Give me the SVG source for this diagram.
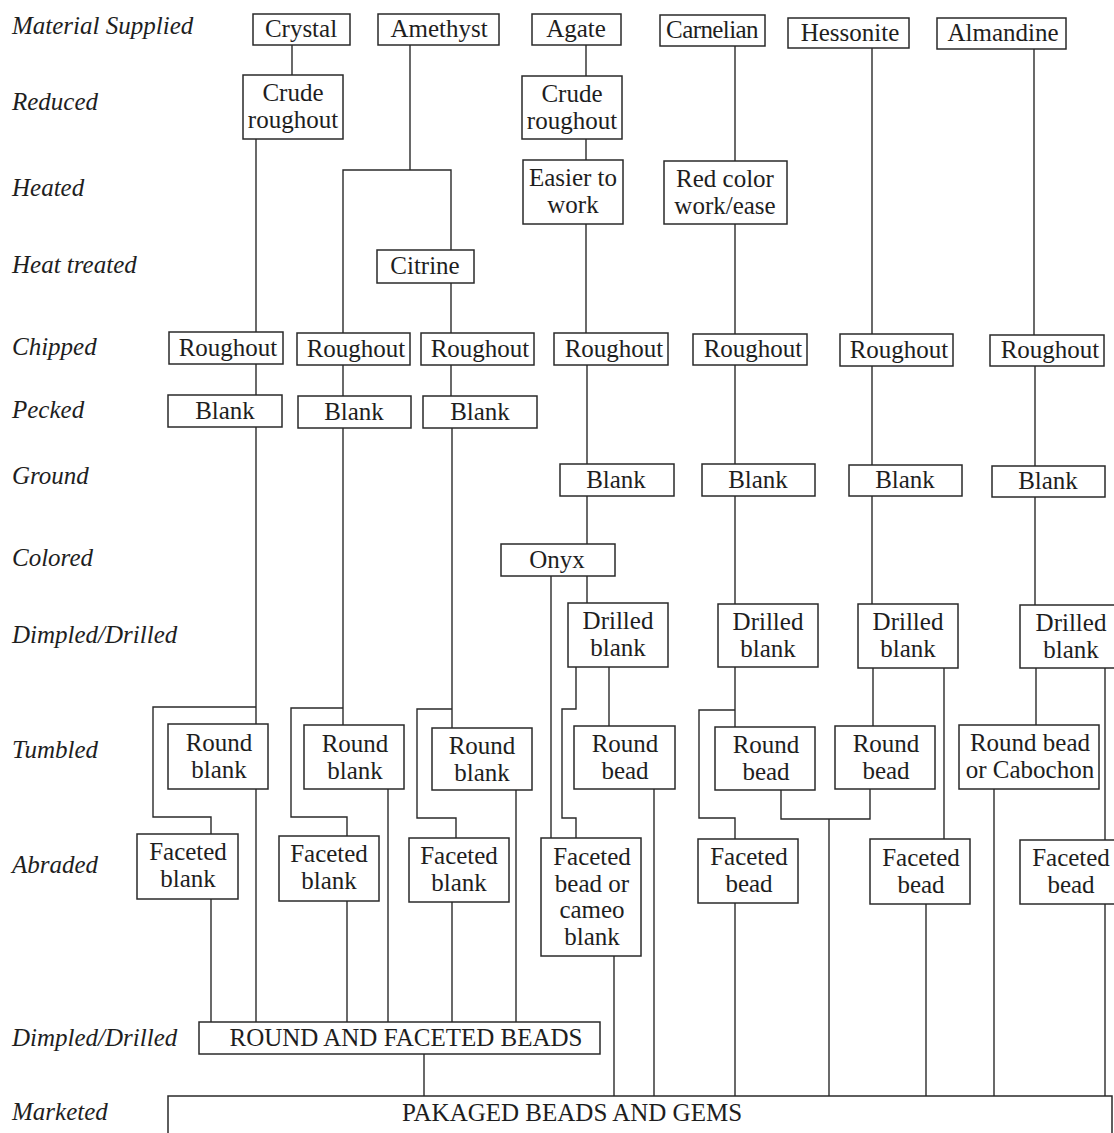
<svg xmlns="http://www.w3.org/2000/svg" width="1114" height="1133" viewBox="0 0 1114 1133">
<style>
.bg{fill:#ffffff}
.box rect{fill:#ffffff;stroke:#2a2a2a;stroke-width:1.5}
.box text,.lbl{font-family:"Liberation Serif","Times New Roman",serif;font-size:25px;fill:#1e1e1e}
.box text{text-anchor:middle}
.lbl{font-style:italic}
.conn path{fill:none;stroke:#2a2a2a;stroke-width:1.4}
</style>
<rect class="bg" x="0" y="0" width="1114" height="1133"/>

<g id="row-labels">
<text class="lbl" x="12" y="34">Material Supplied</text>
<text class="lbl" x="12" y="110">Reduced</text>
<text class="lbl" x="12" y="196">Heated</text>
<text class="lbl" x="12" y="273">Heat treated</text>
<text class="lbl" x="12" y="355">Chipped</text>
<text class="lbl" x="12" y="418">Pecked</text>
<text class="lbl" x="12" y="484">Ground</text>
<text class="lbl" x="12" y="566">Colored</text>
<text class="lbl" x="12" y="643">Dimpled/Drilled</text>
<text class="lbl" x="12" y="758">Tumbled</text>
<text class="lbl" x="12" y="873">Abraded</text>
<text class="lbl" x="12" y="1046">Dimpled/Drilled</text>
<text class="lbl" x="12" y="1120">Marketed</text>
</g>

<g id="connectors" class="conn">
<!-- Crystal -->
<path d="M292 45V75"/>
<path d="M256 139V332"/>
<path d="M256 364V395"/>
<path d="M256 427V724"/>
<path d="M256 707H153V817H211V834"/>
<path d="M256 789V1022"/>
<path d="M211 899V1022"/>
<!-- Amethyst -->
<path d="M410 45V170"/>
<path d="M343 333V170H451V250"/>
<path d="M451 283V333"/>
<path d="M343 365V396"/>
<path d="M451 365V396"/>
<path d="M343 428V725"/>
<path d="M343 708H291V817H347V836"/>
<path d="M388 789V1022"/>
<path d="M347 901V1022"/>
<path d="M452 428V728"/>
<path d="M452 709H417V818H456V838"/>
<path d="M516 790V1022"/>
<path d="M452 902V1022"/>
<!-- Agate -->
<path d="M586 45V76"/>
<path d="M586 139V160"/>
<path d="M586 224V333"/>
<path d="M587 365V464"/>
<path d="M587 496V544"/>
<path d="M587 576V603"/>
<path d="M551 576V838"/>
<path d="M576 667V709H562V818H576V838"/>
<path d="M609 667V726"/>
<path d="M654 789V1096"/>
<path d="M614 956V1096"/>
<!-- Carnelian -->
<path d="M735 46V161"/>
<path d="M735 224V334"/>
<path d="M735 365V464"/>
<path d="M735 496V604"/>
<path d="M735 667V727"/>
<path d="M735 710H699V818H735V839"/>
<path d="M781 790V819H870V789"/>
<path d="M829 819V1096"/>
<path d="M735 903V1096"/>
<!-- Hessonite -->
<path d="M872 48V334"/>
<path d="M872 366V465"/>
<path d="M872 496V604"/>
<path d="M873 668V726"/>
<path d="M944 668V839"/>
<path d="M926 904V1096"/>
<!-- Almandine -->
<path d="M1034 49V335"/>
<path d="M1035 366V466"/>
<path d="M1035 497V605"/>
<path d="M1036 668V725"/>
<path d="M1105 668V840"/>
<path d="M994 789V1096"/>
<path d="M1105 904V1096"/>
<!-- Round and faceted beads to packaged -->
<path d="M424 1054V1096"/>
</g>

<g id="n-crystal" class="box"><rect x="253" y="14" width="97" height="31"/><text x="301" y="37">Crystal</text></g>
<g id="n-amethyst" class="box"><rect x="378" y="14" width="121" height="31"/><text x="439" y="37">Amethyst</text></g>
<g id="n-agate" class="box"><rect x="532" y="14" width="89" height="31"/><text x="576" y="37">Agate</text></g>
<g id="n-carnelian" class="box"><rect x="660" y="15" width="105" height="31"/><text x="712" y="38" letter-spacing="-0.6">Carnelian</text></g>
<g id="n-hessonite" class="box"><rect x="788" y="18" width="121" height="30"/><text x="850" y="41">Hessonite</text></g>
<g id="n-almandine" class="box"><rect x="937" y="18" width="129" height="31"/><text x="1003" y="41">Almandine</text></g>

<g id="n-crude1" class="box"><rect x="243" y="75" width="100" height="64"/><text x="293" y="101">Crude</text><text x="293" y="128">roughout</text></g>
<g id="n-crude2" class="box"><rect x="522" y="76" width="100" height="63"/><text x="572" y="102">Crude</text><text x="572" y="129">roughout</text></g>

<g id="n-easier" class="box"><rect x="523" y="160" width="100" height="64"/><text x="573" y="186">Easier to</text><text x="573" y="213">work</text></g>
<g id="n-redcolor" class="box"><rect x="664" y="161" width="123" height="63"/><text x="725" y="187">Red color</text><text x="725" y="214">work/ease</text></g>

<g id="n-citrine" class="box"><rect x="377" y="250" width="97" height="33"/><text x="425" y="274">Citrine</text></g>

<g id="n-rough1" class="box"><rect x="169" y="332" width="114" height="32"/><text x="228" y="356">Roughout</text></g>
<g id="n-rough2" class="box"><rect x="297" y="333" width="113" height="32"/><text x="356" y="357">Roughout</text></g>
<g id="n-rough3" class="box"><rect x="421" y="333" width="113" height="32"/><text x="480" y="357">Roughout</text></g>
<g id="n-rough4" class="box"><rect x="554" y="333" width="114" height="32"/><text x="614" y="357">Roughout</text></g>
<g id="n-rough5" class="box"><rect x="693" y="334" width="114" height="31"/><text x="753" y="357">Roughout</text></g>
<g id="n-rough6" class="box"><rect x="840" y="334" width="113" height="32"/><text x="899" y="358">Roughout</text></g>
<g id="n-rough7" class="box"><rect x="990" y="335" width="114" height="31"/><text x="1050" y="358">Roughout</text></g>

<g id="n-blank1" class="box"><rect x="168" y="395" width="114" height="32"/><text x="225" y="419">Blank</text></g>
<g id="n-blank2" class="box"><rect x="298" y="396" width="113" height="32"/><text x="354" y="420">Blank</text></g>
<g id="n-blank3" class="box"><rect x="423" y="396" width="114" height="32"/><text x="480" y="420">Blank</text></g>

<g id="n-blank4" class="box"><rect x="560" y="464" width="114" height="32"/><text x="616" y="488">Blank</text></g>
<g id="n-blank5" class="box"><rect x="702" y="464" width="113" height="32"/><text x="758" y="488">Blank</text></g>
<g id="n-blank6" class="box"><rect x="849" y="465" width="113" height="31"/><text x="905" y="488">Blank</text></g>
<g id="n-blank7" class="box"><rect x="992" y="466" width="113" height="31"/><text x="1048" y="489">Blank</text></g>

<g id="n-onyx" class="box"><rect x="501" y="544" width="114" height="32"/><text x="557" y="568">Onyx</text></g>

<g id="n-drilled4" class="box"><rect x="568" y="603" width="100" height="64"/><text x="618" y="629">Drilled</text><text x="618" y="656">blank</text></g>
<g id="n-drilled5" class="box"><rect x="718" y="604" width="100" height="63"/><text x="768" y="630">Drilled</text><text x="768" y="657">blank</text></g>
<g id="n-drilled6" class="box"><rect x="858" y="604" width="100" height="64"/><text x="908" y="630">Drilled</text><text x="908" y="657">blank</text></g>
<g id="n-drilled7" class="box"><rect x="1020" y="605" width="100" height="63"/><text x="1071" y="631">Drilled</text><text x="1071" y="658">blank</text></g>

<g id="n-roundblank1" class="box"><rect x="168" y="724" width="100" height="65"/><text x="219" y="751">Round</text><text x="219" y="778">blank</text></g>
<g id="n-roundblank2" class="box"><rect x="304" y="725" width="100" height="64"/><text x="355" y="752">Round</text><text x="355" y="779">blank</text></g>
<g id="n-roundblank3" class="box"><rect x="432" y="728" width="100" height="62"/><text x="482" y="754">Round</text><text x="482" y="781">blank</text></g>
<g id="n-roundbead4" class="box"><rect x="574" y="726" width="101" height="63"/><text x="625" y="752">Round</text><text x="625" y="779">bead</text></g>
<g id="n-roundbead5" class="box"><rect x="715" y="727" width="100" height="63"/><text x="766" y="753">Round</text><text x="766" y="780">bead</text></g>
<g id="n-roundbead6" class="box"><rect x="835" y="726" width="100" height="63"/><text x="886" y="752">Round</text><text x="886" y="779">bead</text></g>
<g id="n-roundcab7" class="box"><rect x="959" y="725" width="140" height="64"/><text x="1030" y="751">Round bead</text><text x="1030" y="778">or Cabochon</text></g>

<g id="n-facblank1" class="box"><rect x="137" y="834" width="101" height="65"/><text x="188" y="860">Faceted</text><text x="188" y="887">blank</text></g>
<g id="n-facblank2" class="box"><rect x="279" y="836" width="100" height="65"/><text x="329" y="862">Faceted</text><text x="329" y="889">blank</text></g>
<g id="n-facblank3" class="box"><rect x="409" y="838" width="100" height="64"/><text x="459" y="864">Faceted</text><text x="459" y="891">blank</text></g>
<g id="n-faccameo4" class="box"><rect x="541" y="838" width="100" height="118"/><text x="592" y="865">Faceted</text><text x="592" y="892">bead or</text><text x="592" y="918">cameo</text><text x="592" y="945">blank</text></g>
<g id="n-facbead5" class="box"><rect x="698" y="839" width="100" height="64"/><text x="749" y="865">Faceted</text><text x="749" y="892">bead</text></g>
<g id="n-facbead6" class="box"><rect x="870" y="839" width="100" height="65"/><text x="921" y="866">Faceted</text><text x="921" y="893">bead</text></g>
<g id="n-facbead7" class="box"><rect x="1020" y="840" width="100" height="64"/><text x="1071" y="866">Faceted</text><text x="1071" y="893">bead</text></g>

<g id="n-roundfaceted" class="box"><rect x="199" y="1022" width="401" height="32"/><text x="406" y="1046">ROUND AND FACETED BEADS</text></g>
<g id="n-packaged" class="box"><rect x="168" y="1096" width="944" height="50"/><text x="572" y="1121">PAKAGED BEADS AND GEMS</text></g>
</svg>
